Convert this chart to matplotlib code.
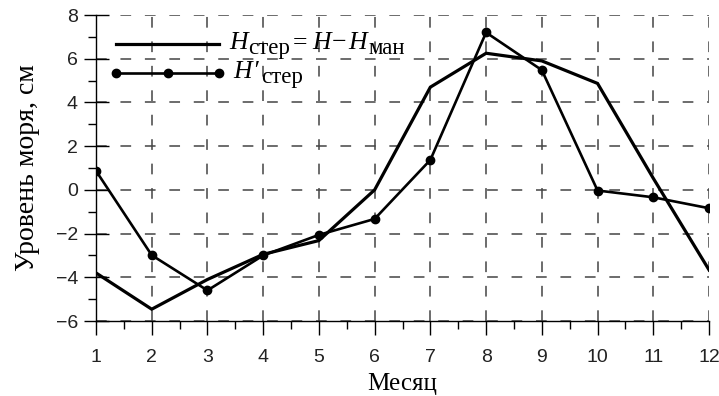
import matplotlib
matplotlib.use("Agg")
import matplotlib.pyplot as plt
from matplotlib.ticker import MultipleLocator
from matplotlib.transforms import IdentityTransform

months = [1, 2, 3, 4, 5, 6, 7, 8, 9, 10, 11, 12]
h_ster = [-3.8, -5.46, -4.1, -2.95, -2.32, 0.0, 4.7, 6.25, 5.9, 4.87, 0.53, -3.66]
h_ster_prime = [0.87, -2.99, -4.6, -3.0, -2.06, -1.33, 1.37, 7.2, 5.48, -0.03, -0.34, -0.84]

xticks = months
yticks = [-6, -4, -2, 0, 2, 4, 6, 8]

W, H = 719, 396
fig = plt.figure(figsize=(W / 100, H / 100), dpi=100)
ax = fig.add_axes([96 / W, 1 - 321 / H, (709 - 96) / W, (321 - 15) / H])

ax.set_xlim(1, 12)
ax.set_ylim(-6, 8)

l1, = ax.plot(months, h_ster, color='black', lw=2.3, solid_joinstyle='miter', zorder=3)
l2, = ax.plot(months, h_ster_prime, color='black', lw=1.9, marker='o', markersize=6,
              zorder=3)

ax.set_xticks(xticks)
ax.set_yticks(yticks)
ax.xaxis.set_minor_locator(MultipleLocator(0.5))
ax.yaxis.set_minor_locator(MultipleLocator(1))

ax.grid(True, which='major', color='#444444', lw=1.1, linestyle=(0, (7, 9)), zorder=1)

for s in ['top', 'right']:
    ax.spines[s].set_visible(False)
ax.spines['left'].set_linewidth(1.0)
ax.spines['bottom'].set_linewidth(1.0)

ax.tick_params(axis='x', which='major', direction='out', length=10, width=1.0, pad=10,
               labelsize=14, labelcolor='#222222')
ax.tick_params(axis='x', which='minor', direction='out', length=6, width=1.0)
ax.tick_params(axis='y', which='major', direction='inout', length=18, width=1.0, pad=4,
               labelsize=14, labelcolor='#222222')
ax.tick_params(axis='y', which='minor', direction='out', length=6, width=1.0)

for lab in ax.get_xticklabels() + ax.get_yticklabels():
    lab.set_fontfamily('Liberation Sans')

ax.set_xlabel('Месяц', fontfamily='Liberation Serif', fontsize=18, labelpad=5)
ax.set_ylabel('Уровень моря, см', fontfamily='Liberation Serif', fontsize=20, labelpad=11)

leg = ax.legend([l1, l2], [' ', ' '], loc='upper left', frameon=False, fontsize=16,
                handlelength=5.25, numpoints=3, bbox_to_anchor=(0.0, 0.977),
                borderaxespad=0.2, labelspacing=0.43, handletextpad=0.5)

fig.canvas.draw()
renderer = fig.canvas.get_renderer()
leg_lines = leg.get_lines()

MAIN = 18.5
SUB = 16.5
label_rows = [
    [('H', MAIN, 'italic', 0, 10), ('стер', SUB, 'normal', -5, 0), ('=', MAIN, 'normal', 0, 3),
     ('H', MAIN, 'italic', 0, 5), ('−', MAIN, 'normal', 0, 1), ('H', MAIN, 'italic', 0, 2),
     ('ман', SUB, 'normal', -5, 1)],
    [('H', MAIN, 'italic', 0, 10), ('′', MAIN, 'italic', 0, 0), ('стер', SUB, 'normal', -5, 3)],
]

for line, pieces in zip(leg_lines, label_rows):
    bb = line.get_window_extent(renderer)
    x = bb.x1
    yc = (bb.y0 + bb.y1) / 2
    base = yc - 5
    for text, size, style, dy, gap in pieces:
        x += gap
        t = fig.text(x, base + dy, text, transform=IdentityTransform(),
                     fontfamily='Liberation Serif', fontsize=size, fontstyle=style,
                     ha='left', va='baseline', zorder=5)
        x = t.get_window_extent(renderer).x1

fig.savefig('out.png', dpi=100)
